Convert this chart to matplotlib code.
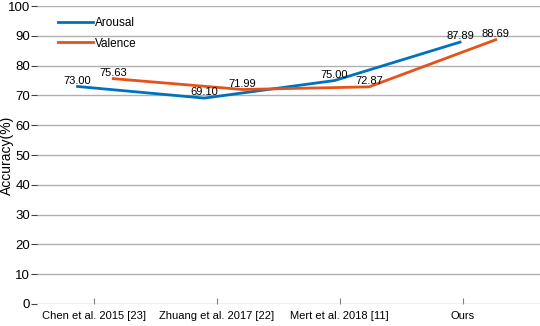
import numpy as np
import matplotlib.pyplot as plt

plt.rcParams['font.family'] = ['Liberation Sans', 'DejaVu Sans']

methods = ['Chen et al. 2015 [23]', 'Zhuang et al. 2017 [22]', 'Mert et al. 2018 [11]', 'Ours']
arousal = [73.00, 69.10, 75.00, 87.89]
valence = [75.63, 71.99, 72.87, 88.69]
# where each point sits along the category axis
arousal_x = [0.87, 1.90, 2.96, 3.98]
valence_x = [1.16, 2.21, 3.24, 4.27]

fig = plt.figure(figsize=(5.4, 3.26), dpi=100)
ax = fig.add_axes([0.0685, 0.0675, 0.9315, 0.914])

ax.plot(arousal_x, arousal, color='#0072BD', lw=2, label='Arousal', zorder=3)
ax.plot(valence_x, valence, color='#E5531A', lw=2, label='Valence', zorder=3)

for x, y in zip(arousal_x, arousal):
    ax.text(x, y + 0.3, f'{y:.2f}', ha='center', va='bottom', fontsize=8, zorder=4)
for x, y in zip(valence_x, valence):
    ax.text(x, y + 0.3, f'{y:.2f}', ha='center', va='bottom', fontsize=8, zorder=4)

ax.set_xlim(0.54, 4.63)
ax.set_ylim(0, 100)
ax.set_yticks(np.arange(0, 101, 10))
ax.set_xticks([1, 2, 3, 4])
ax.set_xticklabels(methods, fontsize=8)
ax.tick_params(axis='y', labelsize=9.5, length=4, color='#404040', pad=1)
ax.tick_params(axis='x', direction='in', length=4, color='#808080', pad=5)
ax.yaxis.grid(True, color='#b0b0b0', lw=1)
ax.set_axisbelow(True)
for s in ax.spines.values():
    s.set_visible(False)
ax.set_ylabel('Accuracy(%)', fontsize=10)
ax.yaxis.set_label_coords(-0.046, 0.5)

ax.legend(loc='upper left', bbox_to_anchor=(0.02, 1.0), frameon=False, fontsize=8.5,
          handlelength=3.0, handletextpad=0.2, labelspacing=0.75)

fig.savefig('out.png', dpi=100)
